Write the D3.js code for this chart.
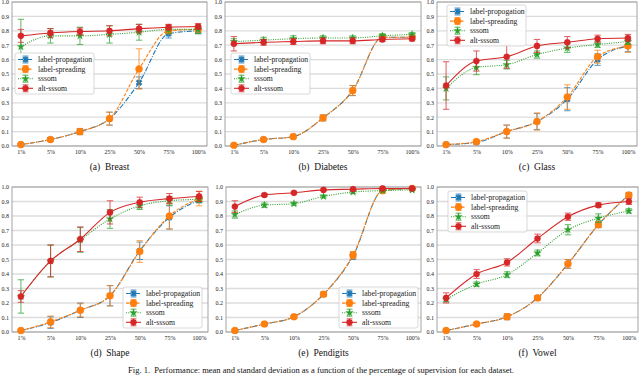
<!DOCTYPE html>
<html><head><meta charset="utf-8">
<script src="https://cdn.jsdelivr.net/npm/d3@7"></script>
<style>body{margin:0;background:#fff}svg{display:block}</style>
</head><body>
<svg id="c" width="640" height="375"></svg>
<script>
const categories = ["1%","5%","10%","25%","50%","75%","100%"];
const yTicks = [0,0.1,0.2,0.3,0.4,0.5,0.6,0.7,0.8,0.9,1.0];
const seriesNames = ["label-propagation","label-spreading","sssom","alt-sssom"];
const glassNames = ["label-propogation","label-spreading","sssom","alt-sssom"];
const datasetTitles = ["(a)  Breast","(b)  Diabetes","(c)  Glass","(d)  Shape","(e)  Pendigits","(f)  Vowel"];
const figCaption = "Fig. 1.  Performance: mean and standard deviation as a function of the percentage of supervision for each dataset.";

// means: [label-propagation, label-spreading, sssom, alt-sssom]
const breastMeans = [
  [0.01,0.045,0.10,0.19,0.44,0.78,0.80],
  [0.01,0.045,0.10,0.19,0.535,0.80,0.81],
  [0.69,0.765,0.765,0.775,0.79,0.81,0.81],
  [0.765,0.785,0.795,0.80,0.815,0.825,0.83]];
const breastErrs = [
  [0.005,0.01,0.02,0.045,0.04,0.03,0.02],
  [0.005,0.012,0.022,0.045,0.14,0.02,0.02],
  [0.19,0.05,0.06,0.06,0.055,0.03,0.03],
  [0.045,0.03,0.025,0.035,0.03,0.02,0.02]];
const diabetesMeans = [
  [0.005,0.045,0.065,0.195,0.385,0.755,0.755],
  [0.005,0.045,0.065,0.195,0.385,0.755,0.755],
  [0.725,0.735,0.745,0.75,0.75,0.765,0.775],
  [0.71,0.72,0.725,0.73,0.73,0.74,0.745]];
const diabetesErrs = [
  [0.005,0.008,0.01,0.02,0.035,0.015,0.015],
  [0.005,0.008,0.01,0.02,0.035,0.015,0.015],
  [0.02,0.02,0.02,0.015,0.015,0.015,0.012],
  [0.05,0.02,0.02,0.02,0.02,0.015,0.015]];
const glassMeans = [
  [0.01,0.025,0.10,0.17,0.325,0.60,0.695],
  [0.01,0.03,0.10,0.17,0.34,0.62,0.695],
  [0.40,0.545,0.565,0.635,0.68,0.705,0.725],
  [0.42,0.59,0.62,0.695,0.72,0.745,0.75]];
const glassErrs = [
  [0.005,0.01,0.045,0.055,0.08,0.04,0.04],
  [0.005,0.012,0.045,0.06,0.085,0.045,0.045],
  [0.08,0.05,0.03,0.025,0.03,0.02,0.02],
  [0.165,0.07,0.08,0.045,0.04,0.025,0.025]];
const shapeMeans = [
  [0.01,0.065,0.15,0.25,0.56,0.79,0.91],
  [0.01,0.07,0.15,0.25,0.555,0.80,0.92],
  [0.245,0.49,0.635,0.78,0.87,0.905,0.915],
  [0.245,0.49,0.64,0.825,0.895,0.92,0.935]];
const shapeErrs = [
  [0.005,0.04,0.05,0.07,0.06,0.08,0.02],
  [0.005,0.04,0.045,0.07,0.075,0.09,0.05],
  [0.115,0.11,0.085,0.065,0.025,0.03,0.02],
  [0.04,0.11,0.085,0.08,0.035,0.035,0.035]];
const pendigitsMeans = [
  [0.01,0.055,0.105,0.26,0.525,0.975,0.99],
  [0.01,0.055,0.105,0.26,0.53,0.975,0.99],
  [0.81,0.875,0.885,0.935,0.965,0.975,0.98],
  [0.865,0.945,0.96,0.98,0.985,0.99,0.99]];
const pendigitsErrs = [
  [0.004,0.006,0.008,0.015,0.025,0.005,0.004],
  [0.004,0.006,0.008,0.015,0.025,0.005,0.004],
  [0.025,0.015,0.01,0.01,0.01,0.005,0.005],
  [0.04,0.01,0.008,0.005,0.005,0.004,0.004]];
const vowelMeans = [
  [0.01,0.055,0.105,0.235,0.47,0.74,0.945],
  [0.01,0.055,0.105,0.235,0.47,0.74,0.945],
  [0.225,0.33,0.395,0.545,0.705,0.785,0.835],
  [0.235,0.40,0.48,0.645,0.795,0.875,0.90]];
const vowelErrs = [
  [0.005,0.01,0.02,0.015,0.03,0.02,0.015],
  [0.005,0.01,0.02,0.015,0.03,0.02,0.015],
  [0.015,0.015,0.02,0.02,0.035,0.03,0.015],
  [0.035,0.03,0.025,0.03,0.025,0.015,0.02]];

const colors = ["#1f77b4","#ff7f0e","#2ca02c","#d62728"];
const dashes = ["5,1.5,1,1.5","3.5,1.5","1,1.3",null];
const markers = [d3.symbolCross, d3.symbolCircle, d3.symbolStar, d3.symbolCircle];
const markerSizes = [20, 40, 18, 30];
const markerRot = [45,0,0,0];

const panels = [
  {means:breastMeans, errs:breastErrs, names:seriesNames, box:[12,207,2,146], legend:[15,53]},
  {means:diabetesMeans, errs:diabetesErrs, names:seriesNames, box:[225,421,2,146], legend:[231,53]},
  {means:glassMeans, errs:glassErrs, names:glassNames, box:[437,637,2,146], legend:[447,5]},
  {means:shapeMeans, errs:shapeErrs, names:seriesNames, box:[12,208,187,332], legend:[123,287]},
  {means:pendigitsMeans, errs:pendigitsErrs, names:seriesNames, box:[226,421,187,332], legend:[339,287]},
  {means:vowelMeans, errs:vowelErrs, names:seriesNames, box:[437,638,187,332], legend:[448,191]}
];

const svg = d3.select("#c");
const serif = "'Liberation Serif','DejaVu Serif',serif";

function drawMarker(g, i, x, y){
  g.append("path").attr("d", d3.symbol().type(markers[i]).size(markerSizes[i])())
   .attr("transform", `translate(${x},${y}) rotate(${markerRot[i]})`)
   .attr("fill", colors[i]).attr("stroke", colors[i])
   .attr("stroke-width", i===0 ? 0.8 : 0.3);
}

panels.forEach((p, pi) => {
  const [L,R,T,B] = p.box;
  const x = d3.scalePoint().domain(categories).range([L,R]).padding(0.3);
  const y = d3.scaleLinear().domain([0,1]).range([B,T]);
  const g = svg.append("g");

  g.append("g").selectAll("line").data(yTicks).join("line")
    .attr("x1",L).attr("x2",R).attr("y1",d=>y(d)).attr("y2",d=>y(d))
    .attr("stroke","#dcdcdc").attr("stroke-width",1.3);

  const ya = d3.axisLeft(y).tickValues(yTicks).tickFormat(d3.format(".1f")).tickSize(0).tickPadding(3);
  const yg = g.append("g").attr("transform",`translate(${L},0)`).call(ya);
  yg.select(".domain").remove();
  yg.selectAll("text").attr("font-family",serif).attr("font-size",6).attr("fill","#222");
  const xa = d3.axisBottom(x).tickSize(0).tickPadding(4);
  const xg = g.append("g").attr("transform",`translate(0,${B})`).call(xa);
  xg.select(".domain").remove();
  xg.selectAll("text").attr("font-family",serif).attr("font-size",6).attr("fill","#222");

  g.append("rect").attr("x",L).attr("y",T).attr("width",R-L).attr("height",B-T)
    .attr("fill","none").attr("stroke","#9a9a9a").attr("stroke-width",0.9);

  p.means.forEach((m, si) => {
    const pts = m.map((v,k)=>({c:categories[k], v, e:p.errs[si][k]}));
    const line = d3.line().x(d=>x(d.c)).y(d=>y(d.v)).curve(d3.curveMonotoneX);
    const sg = g.append("g");
    sg.append("path").attr("d", line(pts)).attr("fill","none")
      .attr("stroke",colors[si]).attr("stroke-width",1.1)
      .attr("stroke-dasharray",dashes[si]);
    const eb = sg.append("g").attr("stroke",colors[si]).attr("stroke-width",1).attr("opacity",0.75);
    pts.forEach(d => {
      const cx = x(d.c), y1 = y(Math.min(1,d.v+d.e)), y2 = y(Math.max(0,d.v-d.e));
      eb.append("line").attr("x1",cx).attr("x2",cx).attr("y1",y1).attr("y2",y2);
      eb.append("line").attr("x1",cx-3.2).attr("x2",cx+3.2).attr("y1",y1).attr("y2",y1);
      eb.append("line").attr("x1",cx-3.2).attr("x2",cx+3.2).attr("y1",y2).attr("y2",y2);
    });
    pts.forEach(d => drawMarker(sg, si, x(d.c), y(d.v)));
  });

  const [lx,ly] = p.legend;
  const lg = svg.append("g").attr("transform",`translate(${lx},${ly})`);
  lg.append("rect").attr("x",0).attr("y",0).attr("width",79).attr("height",41).attr("rx",2)
    .attr("fill","#fff").attr("fill-opacity",0.85).attr("stroke","#cfcfcf").attr("stroke-width",0.8);
  p.names.forEach((nm, si) => {
    const yy = 6.5 + si*9.6;
    lg.append("line").attr("x1",3).attr("x2",18).attr("y1",yy).attr("y2",yy)
      .attr("stroke",colors[si]).attr("stroke-width",1.1).attr("stroke-dasharray",dashes[si]);
    const eg = lg.append("g").attr("stroke",colors[si]).attr("stroke-width",1).attr("opacity",0.75);
    eg.append("line").attr("x1",10.5).attr("x2",10.5).attr("y1",yy-3.5).attr("y2",yy+3.5);
    eg.append("line").attr("x1",7.5).attr("x2",13.5).attr("y1",yy-3.5).attr("y2",yy-3.5);
    eg.append("line").attr("x1",7.5).attr("x2",13.5).attr("y1",yy+3.5).attr("y2",yy+3.5);
    drawMarker(lg, si, 10.5, yy);
    lg.append("text").attr("x",23).attr("y",yy+2.6).text(nm)
      .attr("font-family",serif).attr("font-size",7.7).attr("fill","#222");
  });

  svg.append("text").attr("x",(L+R)/2).attr("y",B+24).attr("text-anchor","middle")
    .attr("font-family",serif).attr("font-size",9.5).attr("fill","#111")
    .style("white-space","pre").text(datasetTitles[pi]);
});

svg.append("text").attr("x",321).attr("y",373).attr("text-anchor","middle")
  .attr("font-family",serif).attr("font-size",8.5).attr("fill","#111")
  .style("white-space","pre").text(figCaption);
</script>
</body></html>
